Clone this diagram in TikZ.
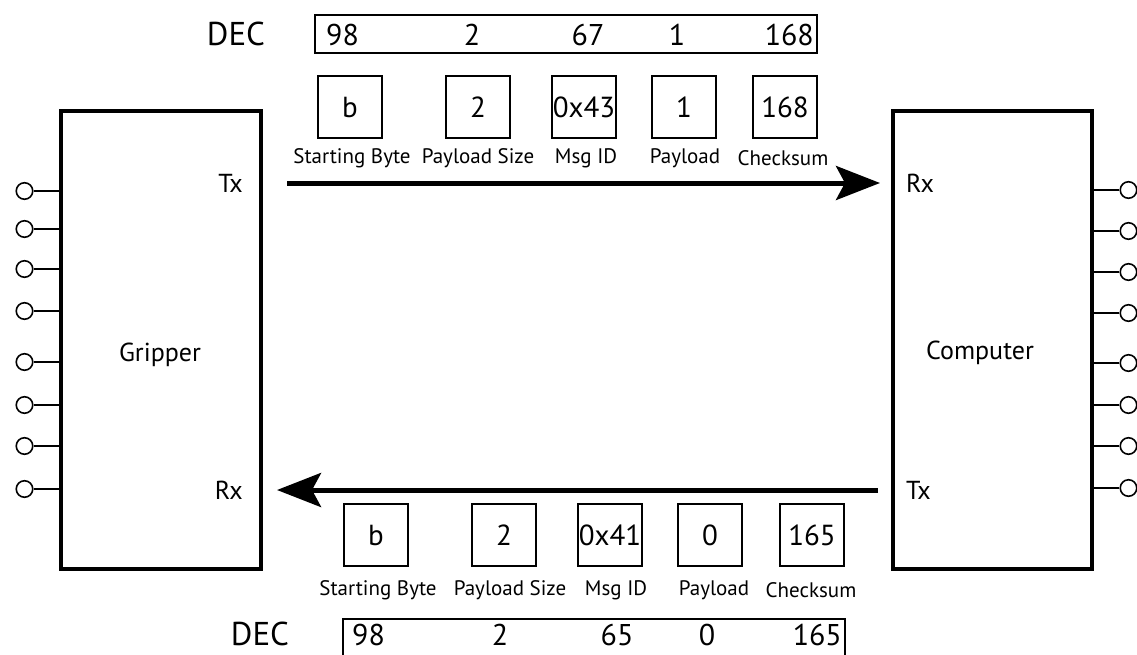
\documentclass[tikz,border=0pt]{standalone}
\usepackage{fontspec}
\setmainfont{PT Sans}
\usetikzlibrary{arrows.meta}
\begin{document}
\begin{tikzpicture}[x=1pt,y=-1pt,
  dev/.style={draw, line width=4pt, inner sep=0pt},
  pinc/.style={draw, circle, line width=1.6pt, minimum size=16.5pt, inner sep=0pt},
  pinl/.style={line width=1.8pt},
  fieldbox/.style={draw, line width=1.6pt, minimum width=64pt, minimum height=62pt, inner sep=0pt, font=\fontsize{29}{32}\selectfont},
  lbl/.style={inner sep=0pt, font=\fontsize{21}{24}\selectfont},
  devtxt/.style={inner sep=0pt, font=\fontsize{26}{30}\selectfont},
  decbox/.style={draw, line width=1.6pt, minimum width=502pt, minimum height=38pt, inner sep=0pt},
  decval/.style={inner sep=0pt, font=\fontsize{30}{33}\selectfont},
  declbl/.style={inner sep=0pt, font=\fontsize{33}{36}\selectfont},
  flow/.style={line width=5pt, -{Stealth[length=44pt,width=34pt,inset=9pt]}}]
\useasboundingbox (0,0) rectangle (1137,654);
\clip (0,0) rectangle (1137,654);
% devices
\node[dev, minimum width=200pt, minimum height=458pt] (grip) at (161,340) {};
\node[dev, minimum width=199pt, minimum height=458pt] (comp) at (992.5,340) {};
\node[devtxt] (gname) at (160,355) {Gripper};
\node[devtxt] (cname) at (980,353) {Computer};
\node[devtxt, anchor=east] (gtx) at (243,183) {Tx};
\node[devtxt, anchor=east] (grx) at (243,490) {Rx};
\node[devtxt, anchor=west] (crx) at (906,183) {Rx};
\node[devtxt, anchor=west] (ctx) at (906,490) {Tx};
% pins
\foreach \i/\y in {1/191,2/229,3/269,4/311,5/362,6/405,7/446,8/489}{
  \node[pinc] (gp\i) at (24.5,\y) {};
  \draw[pinl] (gp\i) -- (grip.west |- gp\i);
}
\foreach \i/\y in {1/190,2/231,3/272,4/313,5/363,6/405,7/446,8/488}{
  \node[pinc] (cp\i) at (1128.5,\y) {};
  \draw[pinl] (cp\i) -- (comp.east |- cp\i);
}
% arrows
\coordinate (a1s) at (287,183);
\coordinate (a1e) at (880,183);
\draw[flow] (a1s) -- (a1e);
\coordinate (a2s) at (878,490);
\coordinate (a2e) at (277,490);
\draw[flow] (a2s) -- (a2e);
% top packet
\node[declbl] (dect) at (236,34) {DEC};
\node[decbox] (rowt) at (566,34) {};
\node[decval, anchor=west] (dt1) at (326,35) {98};
\node[decval] (dt2) at (472,35) {2};
\node[decval] (dt3) at (588,35) {67};
\node[decval] (dt4) at (677,35) {1};
\node[decval, anchor=east] (dt5) at (814,35) {168};
\node[fieldbox] (ft1) at (350,107) {b};
\node[fieldbox] (ft2) at (478,107) {2};
\node[fieldbox] (ft3) at (584,107) {0x43};
\node[fieldbox] (ft4) at (684,107) {1};
\node[fieldbox] (ft5) at (785,107) {168};
\node[lbl] (lt1) at (352,158) {Starting Byte};
\node[lbl] (lt2) at (478,158) {Payload Size};
\node[lbl] (lt3) at (586,158) {Msg ID};
\node[lbl] (lt4) at (685,158) {Payload};
\node[lbl] (lt5) at (783,158) {Checksum};
% bottom packet
\node[fieldbox] (fb1) at (376,535) {b};
\node[fieldbox] (fb2) at (504,535) {2};
\node[fieldbox] (fb3) at (610,535) {0x41};
\node[fieldbox] (fb4) at (710,535) {0};
\node[fieldbox] (fb5) at (812,535) {165};
\node[lbl] (lb1) at (378,590) {Starting Byte};
\node[lbl] (lb2) at (510,590) {Payload Size};
\node[lbl] (lb3) at (616,590) {Msg ID};
\node[lbl] (lb4) at (714,590) {Payload};
\node[lbl] (lb5) at (811,590) {Checksum};
\node[declbl] (decb) at (260,634) {DEC};
\node[decbox] (rowb) at (594,638) {};
\node[decval, anchor=west] (db1) at (352,635) {98};
\node[decval] (db2) at (500,635) {2};
\node[decval] (db3) at (617,635) {65};
\node[decval] (db4) at (707,635) {0};
\node[decval, anchor=east] (db5) at (842,635) {165};
\end{tikzpicture}
\end{document}
